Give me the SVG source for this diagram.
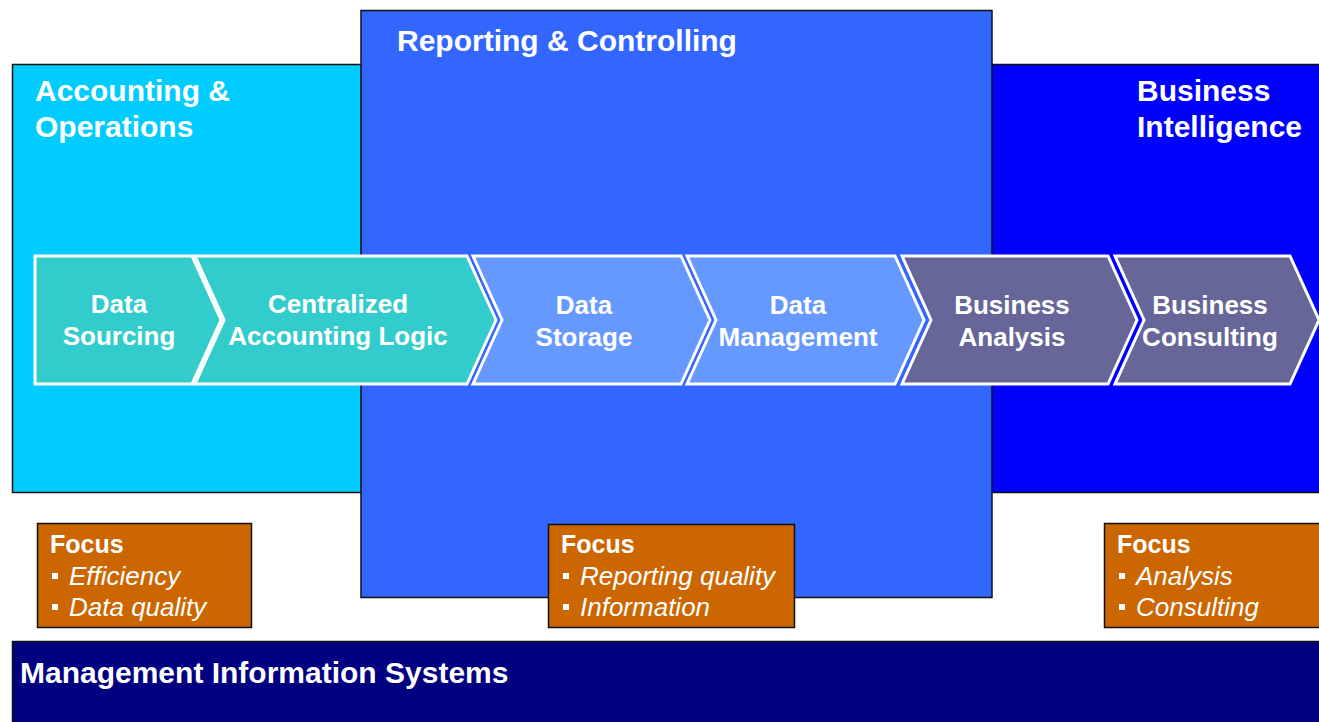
<svg xmlns="http://www.w3.org/2000/svg" width="1319" height="722" viewBox="0 0 1319 722">
<style>
.area{stroke:#111;stroke-width:1.5}
.chev{stroke:#fff;stroke-width:3;stroke-linejoin:miter}
.t{font-family:"Liberation Sans",Arial,sans-serif;fill:#fff;font-weight:bold}
.title{font-size:30px}
.ct{font-size:26px;text-anchor:middle}
.fh{font-size:25px}
.fi{font-family:"Liberation Sans",Arial,sans-serif;fill:#fff;font-style:italic;font-size:26px}
.focus{fill:#CC6600;stroke:#111;stroke-width:1.5}
.b{fill:#fff}
</style>
<rect width="1319" height="722" fill="#fff"/>
<g id="accounting-operations">
<rect class="area" x="12.5" y="64.5" width="349" height="428" fill="#00CCFF"/>
<text class="t title" x="35" y="101">Accounting &amp;</text>
<text class="t title" x="35" y="137">Operations</text>
</g>
<g id="business-intelligence">
<rect class="area" x="991" y="64.5" width="340" height="428" fill="#0000FF"/>
<text class="t title" x="1137" y="101">Business</text>
<text class="t title" x="1137" y="137">Intelligence</text>
</g>
<g id="reporting-controlling">
<rect class="area" x="361" y="10.5" width="631" height="587" fill="#3366FF"/>
<text class="t title" x="397" y="51">Reporting &amp; Controlling</text>
</g>
<g id="mis">
<rect class="area" x="12.5" y="641.5" width="1320" height="90" fill="#000080"/>
<text class="t" style="font-size:30px" x="20" y="683">Management Information Systems</text>
</g>
<g id="connectors"></g>
<g id="data-sourcing">
<polygon class="chev" fill="#33CCCC" points="35,256 192,256 221,320 192,384 35,384"/>
<text class="t ct" x="119" y="313">Data</text>
<text class="t ct" x="119" y="345">Sourcing</text>
</g>
<g id="centralized-accounting-logic">
<polygon class="chev" fill="#33CCCC" points="195,256 467,256 496,320 467,384 195,384 224,320"/>
<text class="t ct" x="338" y="313">Centralized</text>
<text class="t ct" x="338" y="345">Accounting Logic</text>
</g>
<g id="data-storage">
<polygon class="chev" fill="#6699FF" points="473,256 681,256 710,320 681,384 473,384 502,320"/>
<text class="t ct" x="584" y="314">Data</text>
<text class="t ct" x="584" y="346">Storage</text>
</g>
<g id="data-management">
<polygon class="chev" fill="#6699FF" points="687,256 895,256 924,320 895,384 687,384 716,320"/>
<text class="t ct" x="798" y="314">Data</text>
<text class="t ct" x="798" y="346">Management</text>
</g>
<g id="business-analysis">
<polygon class="chev" fill="#666699" points="902,256 1108,256 1137,320 1108,384 902,384 931,320"/>
<text class="t ct" x="1012" y="314">Business</text>
<text class="t ct" x="1012" y="346">Analysis</text>
</g>
<g id="business-consulting">
<polygon class="chev" fill="#666699" points="1115,256 1290,256 1319,320 1290,384 1115,384 1144,320"/>
<text class="t ct" x="1210" y="314">Business</text>
<text class="t ct" x="1210" y="346">Consulting</text>
</g>
<g id="focus-accounting">
<rect class="focus" x="37.5" y="523.5" width="214" height="104"/>
<text class="t fh" x="50" y="553">Focus</text>
<rect class="b" x="52" y="573" width="6" height="6"/>
<text class="fi" x="69" y="585">Efficiency</text>
<rect class="b" x="52" y="604" width="6" height="6"/>
<text class="fi" x="69" y="616">Data quality</text>
</g>
<g id="focus-reporting">
<rect class="focus" x="548.5" y="524.5" width="246" height="103"/>
<text class="t fh" x="561" y="553">Focus</text>
<rect class="b" x="563" y="573" width="6" height="6"/>
<text class="fi" x="580" y="585">Reporting quality</text>
<rect class="b" x="563" y="604" width="6" height="6"/>
<text class="fi" x="580" y="616">Information</text>
</g>
<g id="focus-bi">
<rect class="focus" x="1104.5" y="523.5" width="220" height="104"/>
<text class="t fh" x="1117" y="553">Focus</text>
<rect class="b" x="1119" y="573" width="6" height="6"/>
<text class="fi" x="1136" y="585">Analysis</text>
<rect class="b" x="1119" y="604" width="6" height="6"/>
<text class="fi" x="1136" y="616">Consulting</text>
</g>
</svg>
